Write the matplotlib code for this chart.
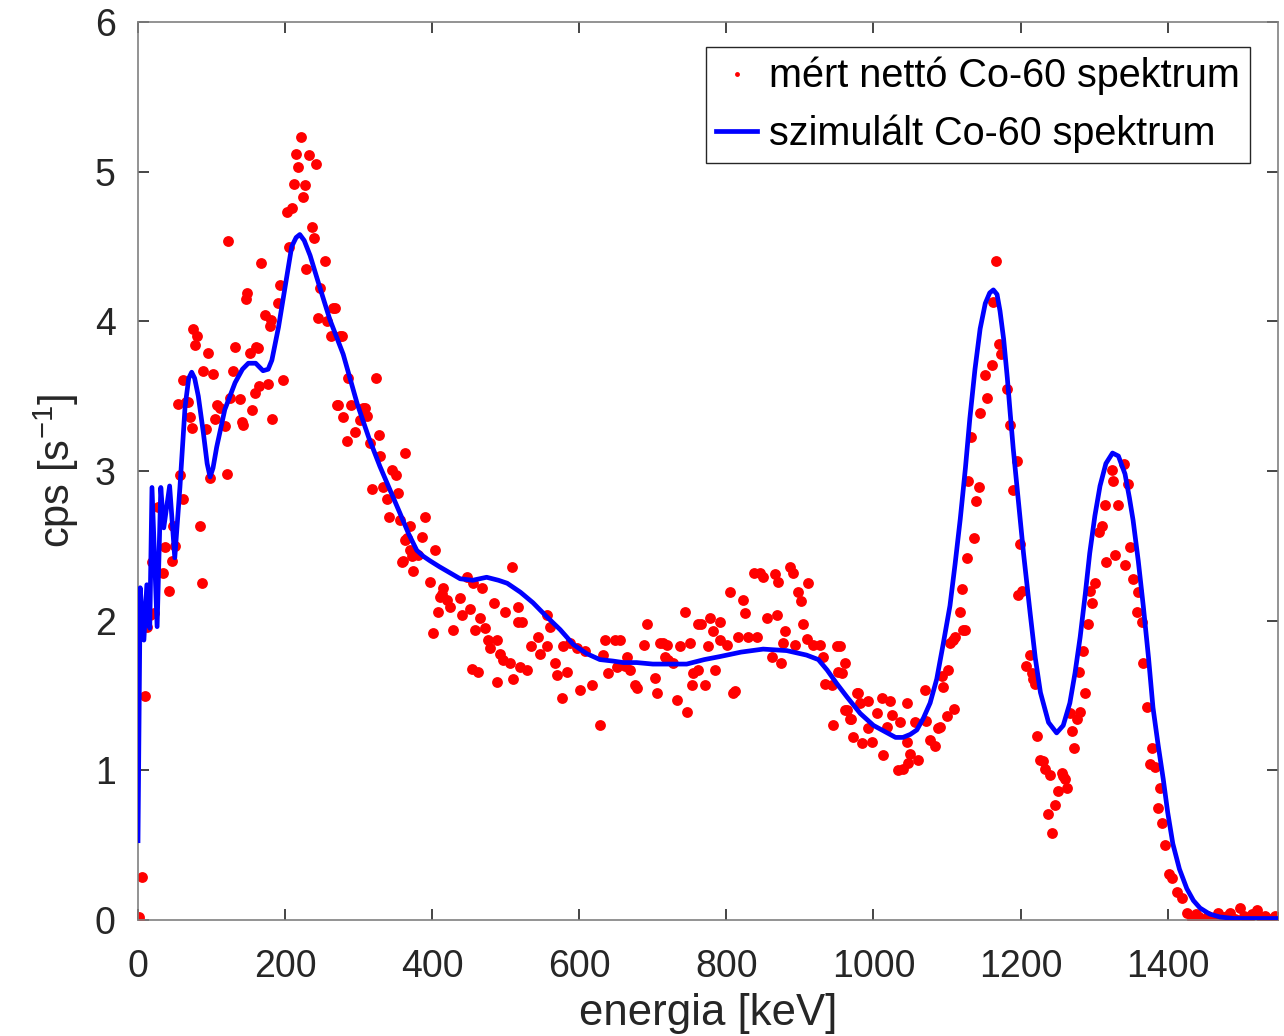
import numpy as np
import matplotlib
matplotlib.use("Agg")
import matplotlib.pyplot as plt

plt.rcParams['font.family'] = ['Liberation Sans', 'DejaVu Sans']
plt.rcParams['mathtext.fontset'] = 'custom'
plt.rcParams['mathtext.rm'] = 'Liberation Sans'
plt.rcParams['mathtext.it'] = 'Liberation Sans'

# ---- simulated spectrum (blue line) ----
sim_energy = [0, 3, 8, 12, 16, 19, 26, 31, 35, 43, 50, 57, 64, 69, 73, 77, 82, 89, 94, 98,
              102, 107, 118, 132, 142, 150, 160, 170, 177, 182, 191, 200, 209, 215, 220, 226,
              234, 247, 261, 279, 298, 314, 329, 343, 356, 368, 379, 388, 397, 410, 424, 438,
              455, 474, 490, 502, 520, 537, 555, 574, 592, 610, 628, 646, 660, 678, 700, 720,
              746, 770, 791, 820, 850, 882, 909, 925, 937, 950, 964, 982, 1000, 1015, 1030,
              1040, 1050, 1059, 1068, 1077, 1086, 1095, 1104, 1111, 1118, 1125, 1131, 1138,
              1145, 1152, 1158, 1163, 1168, 1172, 1177, 1182, 1186, 1190, 1195, 1204, 1213,
              1220, 1227, 1238, 1249, 1258, 1267, 1274, 1281, 1288, 1294, 1301, 1308, 1316,
              1325, 1333, 1342, 1348, 1353, 1360, 1367, 1374, 1380, 1387, 1394, 1400, 1407,
              1416, 1426, 1435, 1444, 1457, 1471, 1490, 1510, 1530, 1550]
sim_cps = [0.53, 2.22, 1.87, 2.24, 1.95, 2.89, 1.96, 2.89, 2.62, 2.90, 2.42, 2.89, 3.43, 3.62,
           3.66, 3.62, 3.50, 3.25, 3.05, 2.96, 3.02, 3.16, 3.41, 3.59, 3.68, 3.72, 3.72, 3.67,
           3.68, 3.74, 3.96, 4.23, 4.50, 4.56, 4.58, 4.54, 4.44, 4.23, 4.01, 3.78, 3.45, 3.22,
           3.03, 2.87, 2.72, 2.58, 2.47, 2.43, 2.40, 2.36, 2.32, 2.28, 2.27, 2.29, 2.27, 2.25,
           2.19, 2.12, 2.03, 1.94, 1.84, 1.78, 1.74, 1.73, 1.72, 1.72, 1.71, 1.71, 1.71, 1.74,
           1.76, 1.79, 1.81, 1.80, 1.77, 1.74, 1.67, 1.58, 1.49, 1.38, 1.30, 1.26, 1.22, 1.22,
           1.24, 1.27, 1.35, 1.45, 1.61, 1.85, 2.10, 2.38, 2.68, 3.02, 3.35, 3.68, 3.95, 4.12,
           4.19, 4.21, 4.18, 4.07, 3.88, 3.62, 3.38, 3.15, 2.90, 2.45, 2.05, 1.75, 1.52, 1.32,
           1.25, 1.30, 1.45, 1.65, 1.89, 2.18, 2.45, 2.70, 2.90, 3.05, 3.12, 3.10, 2.98, 2.82,
           2.67, 2.40, 2.09, 1.75, 1.42, 1.17, 0.94, 0.72, 0.51, 0.34, 0.21, 0.13, 0.08, 0.04,
           0.02, 0.01, 0.01, 0.01, 0.01]

# ---- measured net spectrum (red dots), grouped by energy range ----
meas_e_a = [0, 1, 2, 6, 10, 12, 16, 19, 22, 27, 34, 37, 42, 46, 48, 50, 54, 57, 61, 61, 65, 68,
            71, 73, 75, 78, 80, 84, 87, 89, 93, 95, 98, 102, 105, 107, 112, 118, 121, 122, 125,
            129, 132, 139, 141, 143, 147, 148, 152, 155, 159, 160, 163, 165, 167, 173, 177, 180,
            181, 182, 191, 193, 197]
meas_c_a = [0.0, 0.02, 0.0, 0.29, 1.50, 1.96, 2.04, 2.39, 2.05, 2.76, 2.32, 2.49, 2.20, 2.40,
            2.63, 2.50, 3.45, 2.97, 2.81, 3.61, 3.46, 3.46, 3.36, 3.29, 3.95, 3.84, 3.90, 2.63,
            2.25, 3.67, 3.28, 3.79, 2.95, 3.65, 3.35, 3.44, 3.42, 3.30, 2.98, 4.54, 3.49, 3.67,
            3.83, 3.48, 3.33, 3.31, 4.15, 4.19, 3.79, 3.41, 3.52, 3.83, 3.82, 3.57, 4.39, 4.04,
            3.58, 3.97, 4.01, 3.35, 4.12, 4.24, 3.61]

meas_e_b = [202, 205, 210, 212, 215, 218, 221, 224, 227, 229, 233, 236, 239, 242, 245, 247,
            254, 257, 263, 265, 268, 270, 272, 275, 277, 279, 284, 286, 290, 295, 302, 306,
            309, 312, 316, 318, 323, 327, 329, 333, 338, 341, 345, 351, 354, 356, 359, 360,
            363, 363, 366, 370, 370, 372, 374, 381, 386, 390, 397]
meas_c_b = [4.73, 4.50, 4.76, 4.92, 5.12, 5.03, 5.23, 4.83, 4.91, 4.35, 5.11, 4.63, 4.56, 5.05,
            4.02, 4.22, 4.40, 4.00, 3.90, 4.09, 4.09, 3.44, 3.44, 3.90, 3.90, 3.36, 3.20, 3.62,
            3.44, 3.26, 3.34, 3.42, 3.42, 3.37, 3.19, 2.88, 3.62, 3.24, 3.10, 2.89, 2.81, 2.69,
            3.01, 2.97, 2.85, 2.67, 2.39, 2.40, 3.12, 2.54, 2.55, 2.63, 2.47, 2.43, 2.33, 2.44,
            2.56, 2.69, 2.26]

meas_e_c = [401, 404, 408, 411, 414, 415, 420, 424, 428, 438, 440, 447, 451, 454, 456, 458,
            462, 465, 468, 472, 476, 479, 484, 488, 488, 492, 496, 499, 506, 508, 510, 517,
            517, 519, 522, 529, 535, 544, 547, 556, 556, 560, 567, 570, 576, 578, 583, 587,
            597, 601, 608, 617, 628, 632, 635, 639, 649, 651, 655, 662, 665, 669, 676, 678,
            688, 692]
meas_c_c = [1.92, 2.47, 2.06, 2.16, 2.18, 2.22, 2.14, 2.09, 1.94, 2.15, 2.04, 2.29, 2.08, 1.68,
            2.25, 1.94, 1.66, 2.02, 2.22, 1.95, 1.87, 1.82, 2.12, 1.87, 1.59, 1.78, 1.74, 2.06,
            1.72, 2.36, 1.61, 2.09, 1.99, 1.69, 1.99, 1.67, 1.83, 1.89, 1.78, 2.04, 1.83, 1.96,
            1.72, 1.64, 1.48, 1.83, 1.66, 1.85, 1.82, 1.54, 1.80, 1.57, 1.30, 1.77, 1.87, 1.65,
            1.87, 1.69, 1.87, 1.70, 1.76, 1.67, 1.57, 1.55, 1.84, 1.98]

meas_e_d = [703, 706, 710, 714, 717, 719, 721, 728, 733, 737, 744, 746, 750, 753, 755, 761,
            762, 766, 771, 775, 778, 782, 785, 791, 791, 801, 805, 809, 812, 816, 823, 825,
            830, 837, 842, 846, 850, 855, 862, 866, 869, 870, 874, 877, 880, 886, 891, 893,
            897, 902, 904, 909, 911, 918, 927, 931, 934, 943, 945, 950, 952, 955, 957, 961,
            961, 964, 968, 970, 972, 977, 979, 982, 984, 993, 993, 998]
meas_c_d = [1.62, 1.52, 1.85, 1.85, 1.76, 1.84, 1.74, 1.72, 1.47, 1.83, 2.06, 1.39, 1.85, 1.57,
            1.65, 1.67, 1.98, 1.98, 1.57, 1.83, 2.02, 1.93, 1.67, 1.99, 1.87, 1.84, 2.19, 1.52,
            1.53, 1.89, 2.14, 2.05, 1.89, 2.32, 1.89, 2.32, 2.29, 2.02, 1.76, 2.31, 2.04, 2.26,
            1.72, 1.85, 1.93, 2.36, 2.32, 1.84, 2.19, 2.13, 1.98, 1.88, 2.25, 1.84, 1.84, 1.76,
            1.58, 1.57, 1.30, 1.83, 1.66, 1.83, 1.65, 1.72, 1.40, 1.40, 1.34, 1.34, 1.22, 1.52,
            1.52, 1.45, 1.18, 1.46, 1.28, 1.19]

meas_e_e = [1005, 1012, 1013, 1018, 1022, 1025, 1033, 1036, 1040, 1045, 1045, 1047, 1050,
            1056, 1061, 1070, 1072, 1077, 1084, 1088, 1091, 1093, 1095, 1100, 1101, 1104, 1108,
            1109, 1111, 1118, 1120, 1122, 1124, 1127, 1129, 1133, 1136, 1139, 1143, 1145, 1152,
            1155, 1161, 1162, 1167, 1170, 1174, 1181, 1186, 1190, 1195, 1197, 1199]
meas_c_e = [1.38, 1.48, 1.10, 1.29, 1.46, 1.37, 1.00, 1.32, 1.01, 1.45, 1.19, 1.05, 1.11, 1.32,
            1.07, 1.54, 1.33, 1.20, 1.16, 1.28, 1.29, 1.63, 1.56, 1.36, 1.67, 1.85, 1.87, 1.41,
            1.89, 2.06, 2.21, 1.94, 1.94, 2.42, 2.93, 3.23, 2.55, 2.80, 2.89, 3.39, 3.64, 3.49,
            3.71, 4.13, 4.40, 3.85, 3.78, 3.55, 3.31, 2.87, 3.07, 2.17, 2.51]

meas_e_f = [1202, 1208, 1213, 1215, 1217, 1220, 1222, 1227, 1231, 1233, 1237, 1240, 1243, 1247,
            1251, 1256, 1258, 1260, 1263, 1267, 1270, 1272, 1277, 1279, 1281, 1285, 1288, 1291,
            1294, 1297, 1301, 1306, 1311, 1315, 1316, 1324, 1326, 1328, 1333, 1340, 1342, 1346,
            1349, 1353, 1358, 1360, 1365, 1367, 1372, 1376, 1379, 1383, 1387, 1389, 1392, 1396,
            1402, 1406, 1412, 1419, 1426, 1433, 1438, 1443, 1449, 1455, 1461, 1468, 1474, 1480,
            1485, 1491, 1498, 1504, 1510, 1515, 1521, 1527, 1533, 1540, 1546, 1551]
meas_c_f = [2.20, 1.70, 1.77, 1.65, 1.61, 1.58, 1.23, 1.07, 1.06, 1.01, 0.71, 0.97, 0.58, 0.77,
            0.86, 0.98, 0.96, 0.94, 0.88, 1.38, 1.26, 1.15, 1.34, 1.66, 1.39, 1.80, 1.52, 1.98,
            2.20, 2.12, 2.25, 2.59, 2.63, 2.77, 2.39, 3.01, 2.93, 2.44, 2.77, 3.05, 2.37, 2.91,
            2.49, 2.28, 2.06, 2.19, 1.99, 1.72, 1.42, 1.04, 1.15, 1.02, 0.75, 0.88, 0.65, 0.50,
            0.31, 0.28, 0.19, 0.15, 0.05, 0.01, 0.04, 0.02, 0.00, 0.03, 0.01, 0.05, 0.02, 0.03,
            0.05, 0.01, 0.08, 0.03, 0.01, 0.04, 0.07, 0.02, 0.03, 0.01, 0.03, 0.02]

meas_energy = np.concatenate([meas_e_a, meas_e_b, meas_e_c, meas_e_d, meas_e_e, meas_e_f])
meas_cps = np.concatenate([meas_c_a, meas_c_b, meas_c_c, meas_c_d, meas_c_e, meas_c_f])

x_ticks = [0, 200, 400, 600, 800, 1000, 1200, 1400]
y_ticks = [0, 1, 2, 3, 4, 5, 6]
legend_labels = ['mért nettó Co-60 spektrum', 'szimulált Co-60 spektrum']

fig = plt.figure(figsize=(12.84, 10.36), dpi=100)
ax = fig.add_axes([138 / 1284, 116 / 1036, 1140 / 1284, 898 / 1036])

ax.plot(meas_energy, meas_cps, linestyle='none', marker='o', markersize=7.8,
        color='#ff0000', markeredgewidth=0, label=legend_labels[0], zorder=2)
ax.plot(sim_energy, sim_cps, color='#0000ff', linewidth=3.4,
        label=legend_labels[1], zorder=3)

ax.set_xlim(0, 1550)
ax.set_ylim(0, 6)
ax.set_xticks(x_ticks)
ax.set_yticks(y_ticks)

axcol = '#262626'
for s in ax.spines.values():
    s.set_color('#808080')
    s.set_linewidth(1.2)
ax.tick_params(axis='both', direction='in', length=8, width=1.2, color=axcol,
               top=True, right=True, labelsize=27, labelcolor=axcol)
ax.tick_params(axis='x', pad=21)
ax.tick_params(axis='y', pad=16)

ax.set_xlabel('energia [keV]', fontsize=31.5, color=axcol, labelpad=6)
ax.set_ylabel('cps [s$^{-1}$]', fontsize=30, color=axcol, labelpad=10)

leg = ax.legend(loc='upper right', bbox_to_anchor=((1250 - 138) / 1140, (920 - 47) / 898),
                borderaxespad=0, fontsize=28.5, frameon=True, fancybox=False,
                framealpha=1, edgecolor=axcol, markerscale=0.45,
                handlelength=1.05, handletextpad=0.3, borderpad=0.25, labelspacing=0.48)
leg.get_frame().set_linewidth(1.0)
for t in leg.get_texts():
    t.set_color('black')

fig.savefig('out.png', dpi=100)
